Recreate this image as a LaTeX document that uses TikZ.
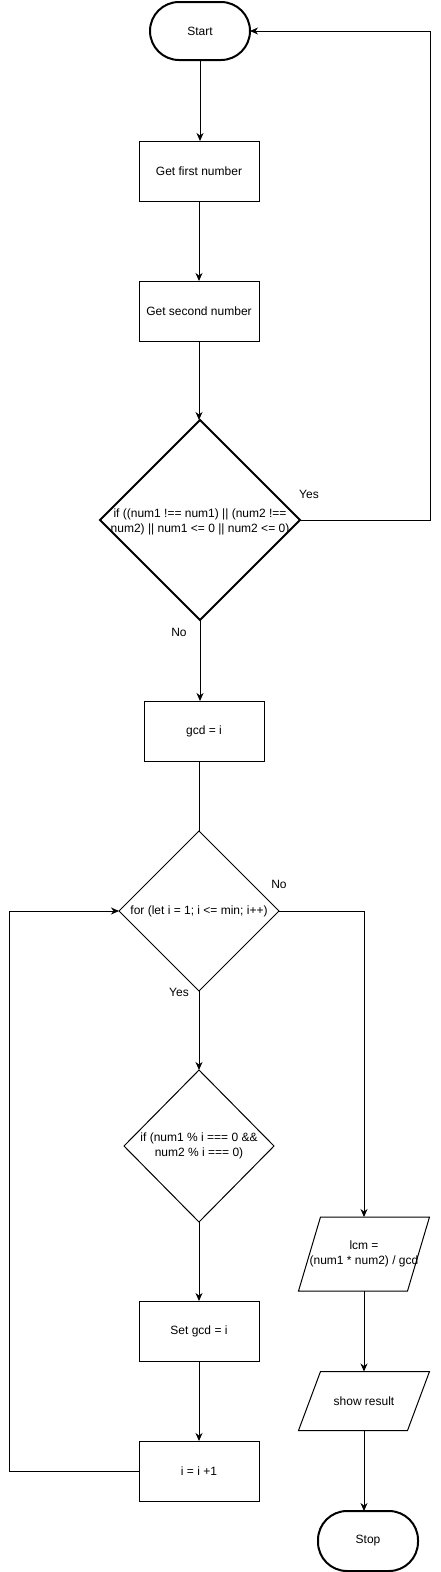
\documentclass[tikz,border=0pt]{standalone}
\usepackage{fontspec}
\setmainfont{Liberation Sans}
\usetikzlibrary{arrows.meta,shapes.geometric}

\begin{document}
\begin{tikzpicture}[x=1pt,y=-1pt,>={Stealth[length=8pt,width=7pt,inset=2.5pt]},line width=1pt,
  every node/.style={font=\fontsize{12}{15}\selectfont},
  box/.style={draw,minimum width=120pt,minimum height=60pt,inner sep=0pt,outer sep=0pt},
  terminal/.style={box,line width=2pt,rounded corners=29pt,minimum width=100pt,minimum height=58pt},
  decision/.style={draw,diamond,inner sep=0pt,outer sep=0pt},
  io/.style={minimum width=109pt,inner sep=0pt,outer sep=0pt,align=center}]
\useasboundingbox (0,0) rectangle (440,1572);

% main column
\node[terminal] (start) at (200,31) {Start};
\node[box] (first) at (199,171) {Get first number};
\node[box] (second) at (199,311) {Get second number};
\node[decision,line width=2pt,minimum width=200pt,minimum height=200pt] (chk) at (200,520) {};
\node[align=center] (chktxt) at (200,522) {if ((num1 !== num1) || (num2 !==\\num2) || num1 <= 0 || num2 <= 0)};
\node[box] (gcd) at (204,731) {gcd = i};
\node[decision,minimum width=160pt,minimum height=160pt] (loop) at (199,911) {};
\node (looptxt) at (199,911) {for (let i = 1; i <= min; i++)};
\node[decision,minimum width=150pt,minimum height=152pt] (divchk) at (199,1146) {};
\node[align=center] (divtxt) at (199,1146) {if (num1 \% i === 0 \&\&\\num2 \% i === 0)};
\node[box] (setgcd) at (199,1331) {Set gcd = i};
\node[box] (inc) at (199,1471) {i = i +1};

% right column
\node[io,minimum height=74pt] (lcm) at (364,1254) {lcm =\\(num1 * num2) / gcd};
\node[io,minimum height=59pt] (show) at (364,1401) {show result};
\node[terminal,minimum height=60pt] (stop) at (368,1541) {Stop};
\foreach \n in {lcm,show}
  \draw ([xshift=-11pt]\n.south west) -- ([xshift=-11pt]\n.south east)
    -- ([xshift=11pt]\n.north east) -- ([xshift=11pt]\n.north west) -- cycle;

\coordinate (back) at (430,520);
\coordinate (left) at (9,1471);

\draw[->] (start) -- (start |- first.north);
\draw[->] (first) -- (second);
\draw[->] (second) -- (second |- chk.north);
\draw[->] (chk.east) -- (back) |- (start.east);
\draw[->] (chk.south) -- (chk.south |- gcd.north);
\draw (loop.north |- gcd.south) -- (loop.north);
\draw[->] (loop.east) -| (lcm.north);
\draw[->] (loop.south) -- (divchk.north);
\draw[->] (divchk.south) -- (setgcd.north);
\draw[->] (setgcd) -- (inc);
\draw[->] (inc.west) -- (left) |- (loop.west);
\draw[->] (lcm) -- (show);
\draw[->] (show.south) -- (show.south |- stop.north);

% branch labels
\node (yes1) at (309,494) {Yes};
\node (no1) at (179,632) {No};
\node (no2) at (279,884) {No};
\node (yes2) at (179,992) {Yes};
\end{tikzpicture}
\end{document}
